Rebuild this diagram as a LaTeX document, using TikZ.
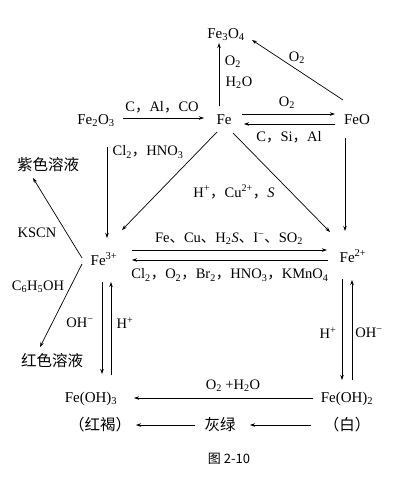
\documentclass[tikz,border=0pt]{standalone}
\usepackage{fontspec}
\setmainfont{Liberation Serif}
\newfontfamily\cjk{Noto Sans CJK SC}
\usetikzlibrary{arrows.meta}
\newcommand{\zc}{{\cjk ，}}
\newcommand{\zd}{{\cjk 、}}
\newcommand{\sbs}[1]{\textsubscript{#1}}
\newcommand{\sps}[1]{\textsuperscript{#1}}
\begin{document}
\begin{tikzpicture}[x=1pt,y=-1pt,
  lbl/.style={inner sep=0pt,font=\fontsize{14.5}{16}\selectfont},
  chem/.style={inner sep=0pt,font=\fontsize{15}{17}\selectfont},
  zh/.style={inner sep=0pt,font=\cjk\fontsize{15.5}{17}\selectfont},
  arr/.style={-{Stealth[length=5pt,width=3.5pt]},line width=0.7pt}]
\useasboundingbox (0,0) rectangle (401,485);
% species
\node[chem,anchor=base] (Fe3O4) at (226,38) {Fe\sbs{3}O\sbs{4}};
\node[chem,anchor=base] (Fe) at (224,124) {Fe};
\node[chem,anchor=base] (Fe2O3) at (96,124) {Fe\sbs{2}O\sbs{3}};
\node[chem,anchor=base] (FeO) at (357,124) {FeO};
\node[chem,anchor=base] (Fe3) at (104,265) {Fe\sps{3+}};
\node[chem,anchor=base] (Fe2) at (353,262) {Fe\sps{2+}};
\node[chem,anchor=base] (FeOH3) at (91,402) {Fe(OH)\sbs{3}};
\node[chem,anchor=base] (FeOH2) at (347,402) {Fe(OH)\sbs{2}};
\node[zh] (hh) at (100,425) {（红褐）};
\node[zh] (hl) at (220,425) {灰绿};
\node[zh] (bai) at (347,425) {（白）};
\node[zh] (zise) at (48,165) {紫色溶液};
\node[zh] (hongse) at (52,361) {红色溶液};
\node[inner sep=0pt,font=\cjk\fontsize{13}{15}\selectfont] (cap) at (229,459) {图 2-10};
% labels
\node[lbl] (l1) at (233,62) {O\sbs{2}};
\node[lbl] (l2) at (239,83) {H\sbs{2}O};
\node[lbl] (l3) at (297,58) {O\sbs{2}};
\node[lbl] (l4) at (162,107) {C\zc Al\zc CO};
\node[lbl] (l5) at (287,103) {O\sbs{2}};
\node[lbl] (l6) at (289,137) {C\zc Si\zc Al};
\node[lbl] (l7) at (148,152) {Cl\sbs{2}\zc HNO\sbs{3}};
\node[lbl] (l8) at (234,192) {H\sps{+}\zc Cu\sps{2+}\zc \textit{S}};
\node[lbl] (l9) at (229,239) {Fe\zd Cu\zd H\sbs{2}\textit{S}\zd I\sps{−}\zd SO\sbs{2}};
\node[lbl] (l10) at (230,275) {Cl\sbs{2}\zc O\sbs{2}\zc Br\sbs{2}\zc HNO\sbs{3}\zc KMnO\sbs{4}};
\node[lbl] (ksc) at (37,233) {KSCN};
\node[lbl] (c6) at (38,287) {C\sbs{6}H\sbs{5}OH};
\node[lbl] (l11) at (80,323) {OH\sps{−}};
\node[lbl] (l12) at (125,323) {H\sps{+}};
\node[lbl] (l13) at (328,333) {H\sps{+}};
\node[lbl] (l14) at (369,333) {OH\sps{−}};
\node[lbl] (l15) at (233,386) {O\sbs{2} +H\sbs{2}O};
% arrow end points
\coordinate (a1) at (219,106); \coordinate (b1) at (219,43);
\coordinate (a2) at (343,100); \coordinate (b2) at (252,40);
\coordinate (a3) at (123,118); \coordinate (b3) at (204,118);
\coordinate (a4) at (242,114); \coordinate (b4) at (335,114);
\coordinate (a5) at (335,124); \coordinate (b5) at (244,124);
\coordinate (a6) at (107,147); \coordinate (b6) at (107,238);
\coordinate (a7) at (217,132); \coordinate (b7) at (122,230);
\coordinate (a8) at (233,133); \coordinate (b8) at (330,232);
\coordinate (a9) at (345,138); \coordinate (b9) at (345,231);
\coordinate (a10) at (132,250); \coordinate (b10) at (327,250);
\coordinate (a11) at (328,260); \coordinate (b11) at (132,260);
\coordinate (a12) at (82,258); \coordinate (b12) at (33,178);
\coordinate (a13) at (82,264); \coordinate (b13) at (40,347);
\coordinate (a14) at (102,282); \coordinate (b14) at (102,374);
\coordinate (a15) at (111,375); \coordinate (b15) at (111,282);
\coordinate (a16) at (342,279); \coordinate (b16) at (342,380);
\coordinate (a17) at (352,380); \coordinate (b17) at (352,280);
\coordinate (a18) at (313,398); \coordinate (b18) at (134,398);
\coordinate (a19) at (311,425); \coordinate (b19) at (250,425);
\coordinate (a20) at (195,425); \coordinate (b20) at (136,425);
\foreach \i in {1,...,20} {\draw[arr] (a\i) -- (b\i);}
\end{tikzpicture}
\end{document}
